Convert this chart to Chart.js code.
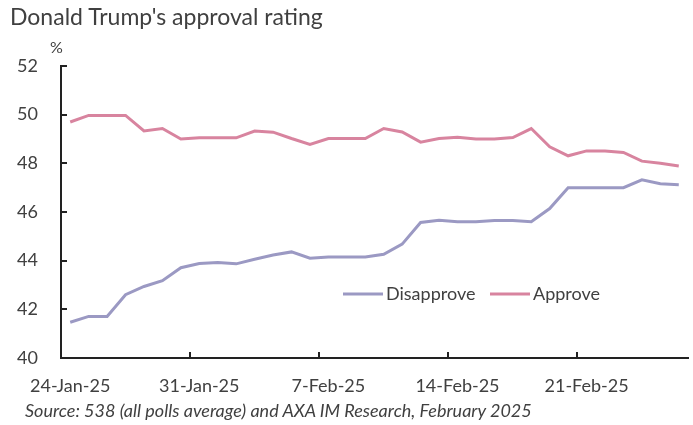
<!DOCTYPE html>
<html>
<head>
<meta charset="utf-8">
<script src="https://cdn.jsdelivr.net/npm/chart.js@4/dist/chart.umd.min.js"></script>
<style>
  html, body { margin: 0; padding: 0; background: #fff; }
  #wrap { position: relative; width: 693px; height: 425px; font-family: Lato, "Open Sans", sans-serif; color: #404040; }
  #wrap div { line-height: 1; }
  #title { position: absolute; left: 10px; top: 5px; font-size: 23px; white-space: nowrap; }
  #unit { position: absolute; left: 50px; top: 39px; font-size: 16px; }
  #source { position: absolute; left: 25px; top: 401px; font-size: 18px; font-style: italic; white-space: nowrap; }
  canvas { position: absolute; left: 0; top: 0; }
</style>
</head>
<body>
<div id="wrap">
  <canvas id="chart" width="693" height="425"></canvas>
  <div id="title">Donald Trump's approval rating</div>
  <div id="unit">%</div>
  <div id="source">Source: 538 (all polls average) and AXA IM Research, February 2025</div>
</div>
<script>
// daily dates, 24-Jan-25 to 26-Feb-25
const dates = [
  '24-Jan-25','25-Jan-25','26-Jan-25','27-Jan-25','28-Jan-25','29-Jan-25','30-Jan-25',
  '31-Jan-25','1-Feb-25','2-Feb-25','3-Feb-25','4-Feb-25','5-Feb-25','6-Feb-25',
  '7-Feb-25','8-Feb-25','9-Feb-25','10-Feb-25','11-Feb-25','12-Feb-25','13-Feb-25',
  '14-Feb-25','15-Feb-25','16-Feb-25','17-Feb-25','18-Feb-25','19-Feb-25','20-Feb-25',
  '21-Feb-25','22-Feb-25','23-Feb-25','24-Feb-25','25-Feb-25','26-Feb-25'
];

const approve = [
  49.70, 49.97, 49.97, 49.97, 49.33, 49.43, 49.00,
  49.05, 49.05, 49.05, 49.33, 49.28, 49.02, 48.78,
  49.02, 49.02, 49.02, 49.43, 49.29, 48.87, 49.02,
  49.07, 49.00, 49.00, 49.06, 49.43, 48.68, 48.31,
  48.51, 48.51, 48.45, 48.09, 48.00, 47.89
];

const disapprove = [
  41.47, 41.71, 41.71, 42.60, 42.94, 43.18, 43.71,
  43.88, 43.92, 43.87, 44.06, 44.23, 44.36, 44.10,
  44.15, 44.15, 44.15, 44.26, 44.68, 45.57, 45.66,
  45.60, 45.60, 45.65, 45.65, 45.60, 46.14, 47.00,
  47.00, 47.00, 47.00, 47.32, 47.16, 47.12
];

const yTicks = [40, 42, 44, 46, 48, 50, 52];
const labelEvery = 7;

const disColor = '#9b99c3';
const appColor = '#d8849f';
const textColor = '#404040';
const fontFamily = 'Lato, "Open Sans", sans-serif';

// inside tick marks + legend inside the plot
const extras = {
  id: 'extras',
  afterDraw(chart) {
    const ctx = chart.ctx;
    const x = chart.scales.x, y = chart.scales.y;
    const area = chart.chartArea;
    ctx.save();
    ctx.strokeStyle = '#222';
    ctx.lineWidth = 2;
    y.ticks.forEach((t, i) => {
      const py = Math.round(y.getPixelForTick(i));
      ctx.beginPath();
      ctx.moveTo(area.left, py);
      ctx.lineTo(area.left + 6, py);
      ctx.stroke();
    });
    const half = (x.getPixelForValue(1) - x.getPixelForValue(0)) / 2;
    for (let i = labelEvery; i < dates.length; i += labelEvery) {
      const px = Math.round(x.getPixelForValue(i) - half);
      ctx.beginPath();
      ctx.moveTo(px, area.bottom);
      ctx.lineTo(px, area.bottom - 6);
      ctx.stroke();
    }

    // legend
    ctx.font = '18px ' + fontFamily;
    ctx.textBaseline = 'middle';
    ctx.fillStyle = textColor;
    ctx.lineWidth = 3;
    const ly = 294;
    const items = [
      { text: 'Disapprove', color: disColor, x: 343 },
      { text: 'Approve', color: appColor, x: 490 }
    ];
    items.forEach(it => {
      ctx.strokeStyle = it.color;
      ctx.beginPath();
      ctx.moveTo(it.x, ly);
      ctx.lineTo(it.x + 40, ly);
      ctx.stroke();
      ctx.fillText(it.text, it.x + 43, ly);
    });
    ctx.restore();
  }
};

new Chart(document.getElementById('chart'), {
  type: 'line',
  data: {
    labels: dates,
    datasets: [
      { label: 'Disapprove', data: disapprove, borderColor: disColor, borderWidth: 3, pointRadius: 0, tension: 0 },
      { label: 'Approve', data: approve, borderColor: appColor, borderWidth: 3, pointRadius: 0, tension: 0 }
    ]
  },
  options: {
    responsive: false,
    animation: false,
    layout: { padding: { top: 66, right: 5, left: 0, bottom: 0 } },
    plugins: { legend: { display: false }, tooltip: { enabled: false }, title: { display: false } },
    scales: {
      x: {
        offset: true,
        grid: { display: false },
        border: { display: true, color: '#222', width: 2 },
        ticks: {
          autoSkip: false, maxRotation: 0, padding: 9,
          color: textColor, font: { family: fontFamily, size: 18 },
          callback: function (v, i) { return i % labelEvery === 0 ? dates[i] : ''; }
        },
        afterFit: s => { s.height = 67; }
      },
      y: {
        min: 40, max: 52,
        afterBuildTicks: s => { s.ticks = yTicks.map(v => ({ value: v })); },
        grid: { display: false },
        border: { display: true, color: '#222', width: 2 },
        ticks: { padding: 15, color: textColor, font: { family: fontFamily, size: 18 } },
        afterFit: s => { s.width = 61; }
      }
    }
  },
  plugins: [extras]
});
</script>
</body>
</html>
